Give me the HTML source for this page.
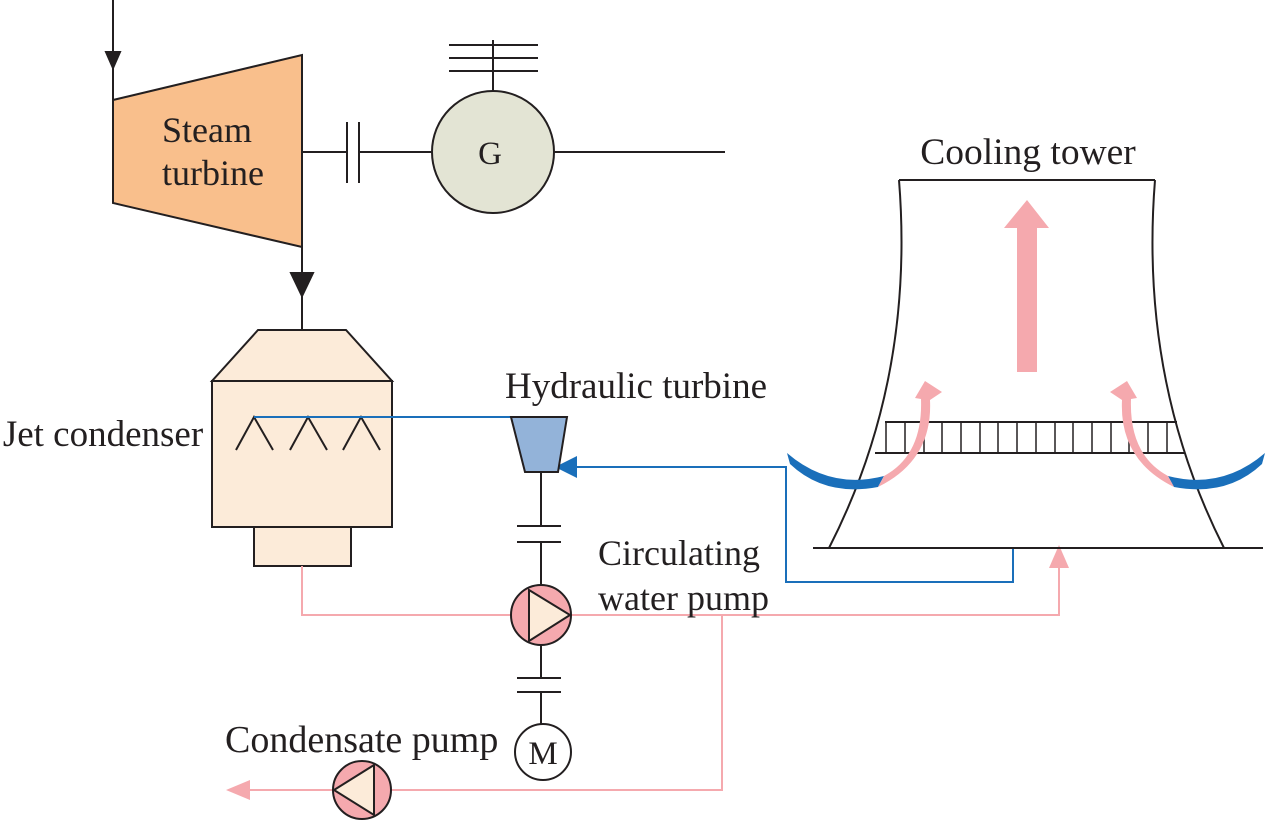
<!DOCTYPE html>
<html><head><meta charset="utf-8"><style>body{margin:0;background:#fff}svg{display:block}text{font-family:"Liberation Serif",serif;fill:#231f20}</style></head><body>
<svg width="1266" height="821" viewBox="0 0 1266 821" xmlns="http://www.w3.org/2000/svg">
<g stroke="#231f20" stroke-width="2" fill="none">
<line x1="113" y1="0" x2="113" y2="100"/>
<polygon points="106,52 120,52 113,68" fill="#231f20"/>
<polygon points="113,100 302,55 302,247 113,203" fill="#f9bf8c"/>
<line x1="302" y1="152" x2="347" y2="152"/>
<line x1="347" y1="122" x2="347" y2="183"/>
<line x1="359" y1="122" x2="359" y2="183"/>
<line x1="359" y1="152" x2="432" y2="152"/>
<circle cx="493" cy="152" r="61" fill="#e3e4d4"/>
<line x1="554" y1="152" x2="725" y2="152"/>
<line x1="493" y1="91" x2="493" y2="40"/>
<line x1="449" y1="45" x2="538" y2="45"/>
<line x1="449" y1="58" x2="538" y2="58"/>
<line x1="449" y1="71" x2="538" y2="71"/>
<line x1="302" y1="247" x2="302" y2="330"/>
<polygon points="291,273 313,273 302,296" fill="#231f20"/>
<polygon points="258,330 346,330 392,381 212,381" fill="#fcebd9"/>
<rect x="212" y="381" width="180" height="146" fill="#fcebd9"/>
<rect x="254" y="527" width="97" height="39" fill="#fcebd9"/>
<polyline points="236,450 254,417 273,450"/>
<polyline points="290,450 308,417 327,450"/>
<polyline points="343,450 361,417 380,450"/>
</g>
<g stroke="#1a6fba" stroke-width="2" fill="none">
<line x1="254" y1="417" x2="511" y2="417"/>
<polyline points="1013,548 1013,582 786,582 786,467 575,467"/>
</g>
<polygon points="555,467 577,456 577,478" fill="#1a6fba"/>
<polygon points="511,417 567,417 558,472 525,472" fill="#93b3d9" stroke="#231f20" stroke-width="2"/>
<g stroke="#f5a9ae" stroke-width="2" fill="none">
<polyline points="302,566 302,615 511,615"/>
<polyline points="571,615 1059,615 1059,565"/>
<polyline points="722,615 722,790 391,790"/>
<line x1="333" y1="790" x2="245" y2="790"/>
</g>
<polygon points="1059,545 1049,568 1069,568" fill="#f5a9ae"/>
<polygon points="226,790 250,780 250,800" fill="#f5a9ae"/>
<g stroke="#231f20" stroke-width="2" fill="none">
<line x1="541" y1="472" x2="541" y2="526"/>
<line x1="517" y1="526" x2="561" y2="526"/>
<line x1="517" y1="542" x2="561" y2="542"/>
<line x1="541" y1="542" x2="541" y2="585"/>
<circle cx="541" cy="615" r="30" fill="#f5a9ae"/>
<polygon points="529,590 570,615 529,641" fill="#fcebd9"/>
<line x1="541" y1="645" x2="541" y2="678"/>
<line x1="517" y1="678" x2="561" y2="678"/>
<line x1="517" y1="692" x2="561" y2="692"/>
<line x1="541" y1="692" x2="541" y2="724"/>
<circle cx="543" cy="752" r="28" fill="#fff"/>
<circle cx="362" cy="790" r="29" fill="#f5a9ae"/>
<polygon points="374,765 334,790 374,815" fill="#fcebd9"/>
<line x1="899" y1="180" x2="1155" y2="180"/>
<path d="M899,180 Q915,380 829,548"/>
<path d="M1155,180 Q1139,380 1224,548"/>
<line x1="813" y1="548" x2="1263" y2="548"/>
<line x1="885" y1="422" x2="1177" y2="422"/>
<line x1="875" y1="453" x2="1185" y2="453"/>
</g>
<g stroke="#231f20" stroke-width="1.5">
<line x1="886" y1="422" x2="886" y2="453"/><line x1="905" y1="422" x2="905" y2="453"/><line x1="924" y1="422" x2="924" y2="453"/><line x1="942" y1="422" x2="942" y2="453"/><line x1="961" y1="422" x2="961" y2="453"/><line x1="980" y1="422" x2="980" y2="453"/><line x1="998" y1="422" x2="998" y2="453"/><line x1="1017" y1="422" x2="1017" y2="453"/><line x1="1036" y1="422" x2="1036" y2="453"/><line x1="1055" y1="422" x2="1055" y2="453"/><line x1="1073" y1="422" x2="1073" y2="453"/><line x1="1092" y1="422" x2="1092" y2="453"/><line x1="1111" y1="422" x2="1111" y2="453"/><line x1="1129" y1="422" x2="1129" y2="453"/><line x1="1148" y1="422" x2="1148" y2="453"/><line x1="1167" y1="422" x2="1167" y2="453"/>
</g>
<polygon points="1017,372 1037,372 1037,228 1049,228 1027,200 1004,228 1017,228" fill="#f5a9ae"/>
<path d="M787,453 Q830,490 884,476 L878,487 Q825,497 790,464 Z" fill="#1a6fba"/>
<path d="M878,487 Q933,460 930,400 L942,392 L925,381 L915,398 L921,399 Q923,455 884,476 Z" fill="#f5a9ae"/>
<path d="M1265,453 Q1222,490 1168,476 L1174,487 Q1227,497 1262,464 Z" fill="#1a6fba"/>
<path d="M1174,487 Q1119,460 1122,400 L1110,392 L1127,381 L1137,398 L1131,399 Q1129,455 1168,476 Z" fill="#f5a9ae"/>
<text x="207" y="142" font-size="36" text-anchor="middle">Steam</text>
<text x="213" y="185" font-size="36" text-anchor="middle">turbine</text>
<text x="490" y="164" font-size="33" text-anchor="middle">G</text>
<text x="543" y="764" font-size="33" text-anchor="middle">M</text>
<text x="1028" y="164" font-size="37.5" text-anchor="middle">Cooling tower</text>
<text x="636" y="398" font-size="37" text-anchor="middle">Hydraulic turbine</text>
<text x="103" y="446" font-size="37" text-anchor="middle">Jet condenser</text>
<text x="598" y="565" font-size="36">Circulating</text>
<text x="598" y="610" font-size="36">water pump</text>
<text x="225" y="752" font-size="38">Condensate pump</text>
</svg>
</body></html>
